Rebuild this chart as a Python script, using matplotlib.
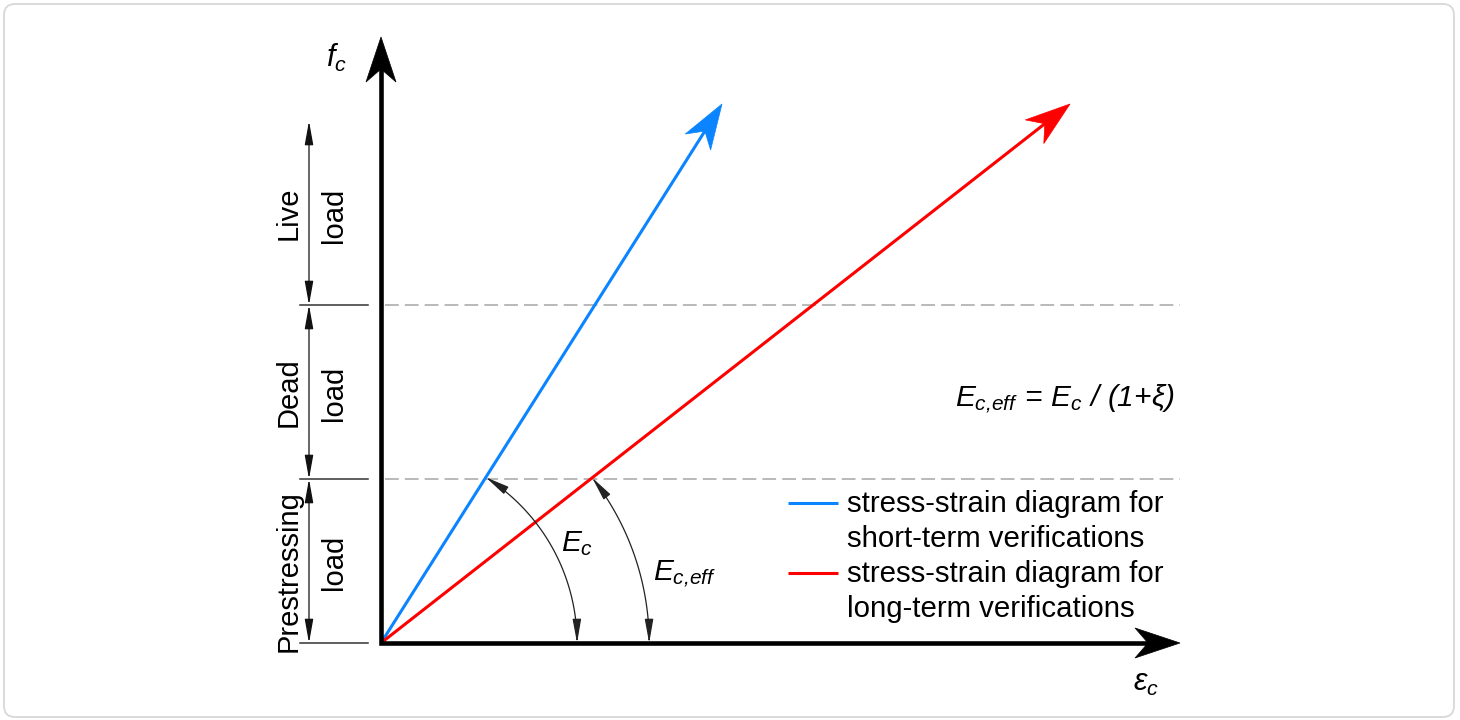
import numpy as np
import matplotlib
matplotlib.use("Agg")
import matplotlib.pyplot as plt
from matplotlib.patches import Polygon, FancyArrowPatch, FancyBboxPatch, ArrowStyle
from matplotlib.path import Path

plt.rcParams['font.family'] = ['Liberation Sans', 'DejaVu Sans']
plt.rcParams['mathtext.fontset'] = 'custom'
plt.rcParams['mathtext.it'] = 'Liberation Sans:italic'
plt.rcParams['mathtext.rm'] = 'Liberation Sans:italic'
plt.rcParams['mathtext.default'] = 'it'

# ---- data (diagram units) ----
load_names = ["Prestressing", "Dead", "Live"]
load_bounds = [0, 164, 338, 522]          # stress levels bounding each load block
stress_end = 539                          # stress at arrow tips
strain_end_short = 341                    # strain at tip, short-term (E_c)
strain_end_long = 689                     # strain at tip, long-term (E_c,eff)
axis_x_end = 799                          # strain axis length
axis_y_end = 606                          # stress axis length
series_colors = {"short": "#0a84ff", "long": "#ff0000"}
legend_labels = [["stress-strain diagram for", "short-term verifications"],
                 ["stress-strain diagram for", "long-term verifications"]]

fig = plt.figure(figsize=(14.6, 7.2), dpi=100)
ax = fig.add_axes([0, 0, 1, 1])
ax.set_xlim(-381, 1079)
ax.set_ylim(-77, 643)
ax.axis('off')

# border
ax.add_patch(FancyBboxPatch((4 - 381, 643 - 717), 1450, 713,
                            boxstyle="round,pad=0,rounding_size=11",
                            fc='white', ec='#d8d8d8', lw=1.3, clip_on=False, zorder=0))


def head(tip, direction, color, L=45, W=15, N=13, z=5):
    d = np.asarray(direction, float)
    d = d / np.hypot(*d)
    n = np.array([-d[1], d[0]])
    t = np.asarray(tip, float)
    pts = [t, t - L * d + W * n, t - (L - N) * d, t - L * d - W * n]
    ax.add_patch(Polygon(pts, closed=True, fc=color, ec=color, lw=0.5, zorder=z))
    return t - (L - N) * d


# dashed level lines
for lvl in load_bounds[1:3]:
    ax.plot([4, axis_x_end], [lvl, lvl], color='#a6a6a6', lw=1.1,
            linestyle=(0, (9, 4)), zorder=1)

# main axes
ny = head((0, axis_y_end), (0, 1), 'black')
nx = head((axis_x_end, 0), (1, 0), 'black')
ax.plot([0, 0, nx[0] + 2], [ny[1] + 2, 0, 0], color='black', lw=3.3,
        solid_joinstyle='miter', solid_capstyle='butt', zorder=4)

# stress-strain lines
for key, xe in (("short", strain_end_short), ("long", strain_end_long)):
    c = series_colors[key]
    nb = head((xe, stress_end), (xe, stress_end), c, z=3)
    ax.plot([0, nb[0]], [0, nb[1]], color=c, lw=2.2, solid_capstyle='butt', zorder=3)

# angle arcs
thin = ArrowStyle('<|-|>', head_length=1.45, head_width=0.26)
for xe in (strain_end_short, strain_end_long):
    xi = load_bounds[1] * xe / stress_end
    r = np.hypot(xi, load_bounds[1]) + 2
    a0 = np.arctan2(load_bounds[1], xi)
    th = np.linspace(a0, 0, 60)
    path = Path(np.column_stack([r * np.cos(th), r * np.sin(th)]))
    ax.add_patch(FancyArrowPatch(path=path, arrowstyle=thin, mutation_scale=10,
                                 color='#222222', lw=0.9, zorder=6))

ax.text(180, 92, r'$E_c$', fontsize=21.5, ha='left', va='baseline')
ax.text(272, 62, r'$E_{c{,}eff}$', fontsize=21.5, ha='left', va='baseline')

# dimension arrows at left
for lvl in load_bounds[:3]:
    ax.plot([-81, -13], [lvl, lvl], color='#333333', lw=1.1, zorder=2)
name_off = [-10, 0, 0]
load_off = [-1, -1, -2]
for i, name in enumerate(load_names):
    y0, y1 = load_bounds[i], load_bounds[i + 1]
    ax.add_patch(FancyArrowPatch((-72, y0), (-72, y1), arrowstyle=thin,
                                 mutation_scale=10, color='#111111', lw=0.9,
                                 shrinkA=0, shrinkB=0, zorder=2))
    ym = (y0 + y1) / 2
    ax.text(-84, ym + name_off[i], name, rotation=90, rotation_mode='anchor',
            ha='center', va='baseline', fontsize=21)
    ax.text(-39, ym + load_off[i], "load", rotation=90, rotation_mode='anchor',
            ha='center', va='baseline', fontsize=21)

# axis labels
ax.text(-55, 576, r'$f_c$', fontsize=22, ha='left', va='baseline')
ax.text(752, -48, r'$\varepsilon_c$', fontsize=22, ha='left', va='baseline')

# formula
ax.text(574, 237, r'$E_{c{,}eff}\,=\,E_c\ /\ (1{+}\xi)$', fontsize=21.5,
        ha='left', va='baseline')

# legend
for j, key in enumerate(("short", "long")):
    base = 643 - 511.7 - 70.5 * j
    ly = base + 9
    ax.plot([407, 457], [ly, ly], color=series_colors[key], lw=2.2,
            solid_capstyle='butt')
    for k, line in enumerate(legend_labels[j]):
        ax.text(466, base - 35 * k, line, fontsize=21.2, ha='left', va='baseline')

fig.savefig("out.png", dpi=100)
